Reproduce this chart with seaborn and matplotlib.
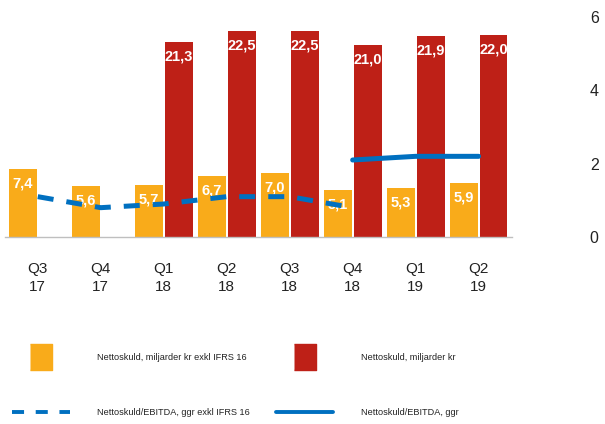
import numpy as np
import pandas as pd
import matplotlib
matplotlib.use("Agg")
import matplotlib.pyplot as plt
import seaborn as sns
from matplotlib.lines import Line2D

quarters = ["Q3\n17", "Q4\n17", "Q1\n18", "Q2\n18", "Q3\n18", "Q4\n18", "Q1\n19", "Q2\n19"]
debt_excl = [7.4, 5.6, 5.7, 6.7, 7.0, 5.1, 5.3, 5.9]
debt_incl = [np.nan, np.nan, 21.3, 22.5, 22.5, 21.0, 21.9, 22.0]
ratio_excl = [1.1, 0.8, 0.9, 1.1, 1.1, 0.8, np.nan, np.nan]
ratio_incl = [np.nan, np.nan, np.nan, np.nan, np.nan, 2.1, 2.2, 2.2]

lab_excl = "Nettoskuld, miljarder kr exkl IFRS 16"
lab_incl = "Nettoskuld, miljarder kr"
lab_rexcl = "Nettoskuld/EBITDA, ggr exkl IFRS 16"
lab_rincl = "Nettoskuld/EBITDA, ggr"

ORANGE = "#F9AB1A"
RED = "#BE2017"
BLUE = "#0070C0"

sns.set_theme(style="white")
plt.rcParams["font.family"] = ["Liberation Sans", "DejaVu Sans"]

df = pd.DataFrame({
    "q": quarters * 2,
    "v": debt_excl + debt_incl,
    "s": [lab_excl] * len(quarters) + [lab_incl] * len(quarters),
})

fig = plt.figure(figsize=(6.05, 4.24), dpi=100)
ax = fig.add_axes([5 / 605, (424 - 237) / 424, (512 - 5) / 605, (237 - 17) / 424])

sns.barplot(data=df, x="q", y="v", hue="s", order=quarters,
            hue_order=[lab_excl, lab_incl], palette=[ORANGE, RED],
            width=0.95, gap=0.07, saturation=1, ax=ax, legend=False,
            edgecolor="none")
ax.set_ylim(0, 24)
ax.set_xlim(-0.52, 7.53)
ax.set_xlabel("")
ax.set_ylabel("")
ax.set_yticks([])
for sp in ["top", "left", "right"]:
    ax.spines[sp].set_visible(False)
ax.spines["bottom"].set_color("#BFBFBF")
ax.spines["bottom"].set_linewidth(1.0)
ax.tick_params(axis="x", length=0, pad=18, labelsize=11, labelcolor="#222222")
for t in ax.get_xticklabels():
    t.set_linespacing(1.35)

for c in ax.containers:
    labels = [f"{v:.1f}".replace(".", ",") for v in c.datavalues]
    ax.bar_label(c, labels=labels, padding=-15.5, color="white", fontsize=10.5,
                 fontweight="bold",
                 family=["Liberation Sans Narrow", "Liberation Sans"])

ax2 = ax.twinx()
x = np.arange(len(quarters))
sns.lineplot(x=x, y=ratio_excl, ax=ax2, color=BLUE, lw=3.6,
             linestyle=(0, (3.2, 2.6)))
sns.lineplot(x=x, y=ratio_incl, ax=ax2, color=BLUE, lw=3.6)
ax2.set_ylim(0, 6)
ax2.set_yticks([0, 2, 4, 6])
ax2.set_yticklabels(["0", "2", "4", "6"])
ax2.tick_params(axis="y", length=0, pad=56, labelsize=11.5, labelcolor="#222222")
for sp in ["top", "left", "right", "bottom"]:
    ax2.spines[sp].set_visible(False)
ax2.set_xlim(-0.52, 7.53)

sq = [(-0.85, -1), (0.85, -1), (0.85, 1), (-0.85, 1)]
handles = [
    Line2D([], [], marker=sq, markersize=19, color=ORANGE, linestyle="none"),
    Line2D([], [], color=BLUE, lw=2.8, linestyle=(0, (3.1, 3.0))),
    Line2D([], [], marker=sq, markersize=19, color=RED, linestyle="none"),
    Line2D([], [], color=BLUE, lw=2.8),
]
labels = [lab_excl, lab_rexcl, lab_incl, lab_rincl]
fig.legend(handles, labels, ncol=2, loc="upper left",
           bbox_to_anchor=(12 / 605, 1 - 353 / 424), frameon=False,
           fontsize=6.6, handlelength=6.3, handletextpad=3.0,
           columnspacing=2.8, labelspacing=5.0, borderpad=0, borderaxespad=0,
           labelcolor="#222222")

fig.savefig("out.png", dpi=100)
